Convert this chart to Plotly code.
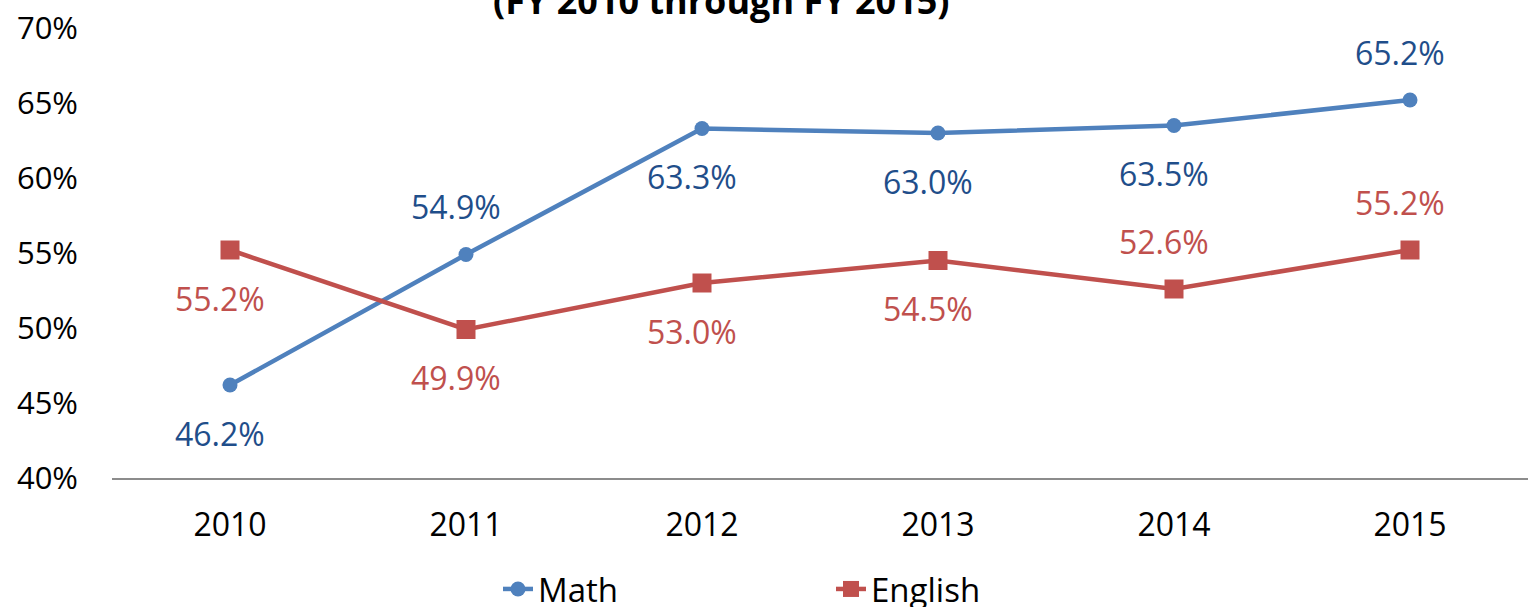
import plotly.graph_objects as go

years = ["2010", "2011", "2012", "2013", "2014", "2015"]
math = [46.2, 54.9, 63.3, 63.0, 63.5, 65.2]
english = [55.2, 49.9, 53.0, 54.5, 52.6, 55.2]
math_label_pos = ["below", "above", "below", "below", "below", "above"]
english_label_pos = ["below", "below", "below", "below", "above", "above"]
y_ticks = [40, 45, 50, 55, 60, 65, 70]
title_text = "(FY 2010 through FY 2015)"

FONT = "Open Sans"
MATH_C = "#4F81BD"
ENG_C = "#C0504D"
MATH_LBL = "#1F4E8A"
ENG_LBL = "#C0504D"
PCT = chr(37)

fig = go.Figure()
fig.add_trace(go.Scatter(x=years, y=math, name="Math", mode="lines+markers",
                         line=dict(color=MATH_C, width=4.5),
                         marker=dict(symbol="circle", size=15, color=MATH_C)))
fig.add_trace(go.Scatter(x=years, y=english, name="English", mode="lines+markers",
                         line=dict(color=ENG_C, width=4.5),
                         marker=dict(symbol="square", size=19, color=ENG_C)))

annotations = []
for vals, poses, col in [(math, math_label_pos, MATH_LBL), (english, english_label_pos, ENG_LBL)]:
    for i, (v, p) in enumerate(zip(vals, poses)):
        annotations.append(dict(x=i, y=v, xref="x", yref="y",
                                text="{:.1f}".format(v) + PCT,
                                showarrow=False, yanchor="middle", xshift=-10,
                                yshift=-48 if p == "below" else 48,
                                font=dict(family=FONT, size=32, color=col)))

annotations.append(dict(x=(721 - 112) / 1416, y=1, xref="paper", yref="paper",
                        yshift=28, yanchor="middle", xanchor="center", showarrow=False,
                        text="<b>" + title_text + "</b>",
                        font=dict(family=FONT, size=36, color="#000000")))

fig.update_layout(
    width=1528, height=607,
    margin=dict(l=112, r=0, t=28, b=129, autoexpand=False),
    paper_bgcolor="white", plot_bgcolor="white",
    font=dict(family=FONT, size=32, color="#000000"),
    annotations=annotations,
    showlegend=True,
    legend=dict(orientation="h", xref="container", x=498 / 1528, xanchor="left",
                yref="container", y=1 - 589 / 607, yanchor="middle", entrywidth=288,
                font=dict(family=FONT, size=33, color="#000000"),
                bgcolor="rgba(0,0,0,0)"),
    xaxis=dict(type="category", range=[-0.5, 5.5], showgrid=False, zeroline=False,
               showline=True, linecolor="#8C8C8C", linewidth=2, ticks="",
               ticklabelstandoff=18, tickfont=dict(family=FONT, size=32)),
    yaxis=dict(range=[40, 70], tickvals=y_ticks,
               ticktext=[str(t) + PCT for t in y_ticks], showgrid=False,
               zeroline=False, showline=False, ticks="", ticklabelstandoff=33,
               tickfont=dict(family=FONT, size=31)),
)

fig.write_html("out.html", config={"displayModeBar": False},
               post_script="document.body.style.margin='0';document.body.style.overflow='hidden';")
